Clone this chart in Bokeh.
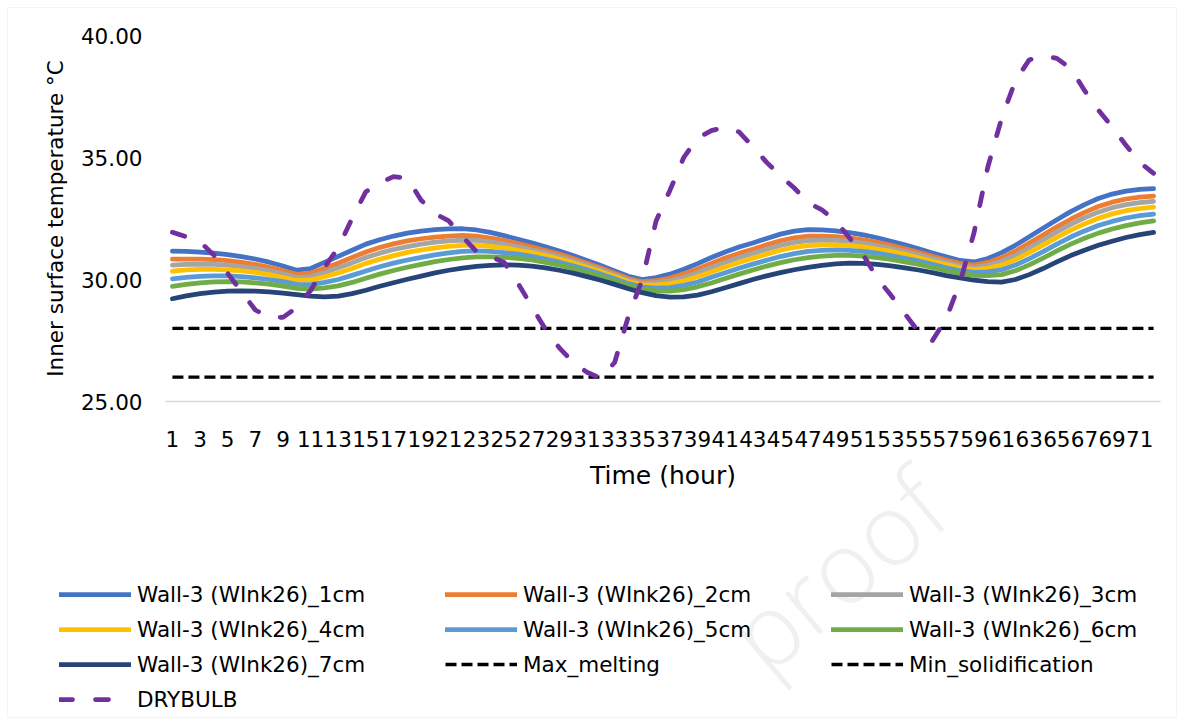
from bokeh.plotting import figure
from bokeh.models import (FixedTicker, Legend, LegendItem, Range1d, Label,
                          PrintfTickFormatter, BoxAnnotation)
from bokeh.embed import file_html
from bokeh.resources import INLINE

# ---------------- data ----------------
hours = list(range(1, 73))
x_tick_labels = list(range(1, 72, 2))
y_ticks = [25, 30, 35, 40]

wall_1cm = [31.16, 31.15, 31.12, 31.08, 31.02, 30.94, 30.84, 30.71, 30.55, 30.38,
            30.45, 30.70, 30.95, 31.20, 31.45, 31.63, 31.78, 31.90, 31.98, 32.04,
            32.07, 32.08, 32.03, 31.93, 31.80, 31.65, 31.50, 31.34, 31.17, 30.98,
            30.78, 30.57, 30.35, 30.13, 30.00, 30.08, 30.22, 30.42, 30.65, 30.90,
            31.13, 31.33, 31.50, 31.68, 31.86, 31.98, 32.04, 32.03, 31.99, 31.92,
            31.83, 31.71, 31.57, 31.42, 31.26, 31.09, 30.93, 30.78, 30.72, 30.86,
            31.10, 31.40, 31.75, 32.10, 32.45, 32.78, 33.07, 33.32, 33.50, 33.62,
            33.69, 33.72]
wall_2cm = [30.83, 30.84, 30.83, 30.81, 30.77, 30.70, 30.62, 30.50, 30.36, 30.21,
            30.26, 30.46, 30.67, 30.90, 31.13, 31.31, 31.46, 31.58, 31.67, 31.74,
            31.78, 31.81, 31.78, 31.70, 31.60, 31.47, 31.34, 31.19, 31.04, 30.86,
            30.67, 30.47, 30.26, 30.04, 29.91, 29.95, 30.06, 30.23, 30.43, 30.66,
            30.88, 31.07, 31.24, 31.42, 31.59, 31.71, 31.78, 31.78, 31.76, 31.71,
            31.63, 31.52, 31.40, 31.26, 31.11, 30.95, 30.80, 30.66, 30.59, 30.70,
            30.89, 31.16, 31.49, 31.82, 32.16, 32.47, 32.75, 32.99, 33.17, 33.30,
            33.38, 33.42]
wall_3cm = [30.59, 30.62, 30.63, 30.62, 30.59, 30.53, 30.46, 30.36, 30.23, 30.09,
            30.12, 30.29, 30.48, 30.68, 30.90, 31.08, 31.23, 31.35, 31.45, 31.53,
            31.58, 31.61, 31.60, 31.54, 31.45, 31.34, 31.22, 31.09, 30.94, 30.77,
            30.59, 30.40, 30.19, 29.98, 29.84, 29.87, 29.95, 30.09, 30.28, 30.49,
            30.70, 30.90, 31.07, 31.24, 31.40, 31.52, 31.59, 31.61, 31.60, 31.56,
            31.49, 31.39, 31.28, 31.15, 31.01, 30.86, 30.71, 30.57, 30.50, 30.58,
            30.75, 30.99, 31.30, 31.62, 31.95, 32.26, 32.53, 32.76, 32.94, 33.07,
            33.15, 33.20]
wall_4cm = [30.34, 30.39, 30.41, 30.41, 30.39, 30.35, 30.29, 30.20, 30.08, 29.96,
            29.98, 30.11, 30.27, 30.45, 30.66, 30.83, 30.98, 31.11, 31.21, 31.30,
            31.36, 31.40, 31.40, 31.36, 31.30, 31.20, 31.10, 30.98, 30.84, 30.68,
            30.50, 30.32, 30.12, 29.92, 29.77, 29.77, 29.83, 29.95, 30.11, 30.31,
            30.51, 30.70, 30.87, 31.04, 31.20, 31.32, 31.39, 31.42, 31.42, 31.39,
            31.34, 31.25, 31.15, 31.03, 30.89, 30.75, 30.61, 30.48, 30.41, 30.46,
            30.59, 30.81, 31.10, 31.41, 31.72, 32.02, 32.28, 32.51, 32.69, 32.82,
            32.91, 32.97]
wall_5cm = [30.03, 30.09, 30.13, 30.15, 30.15, 30.12, 30.07, 30.00, 29.91, 29.80,
            29.79, 29.88, 30.00, 30.17, 30.35, 30.52, 30.67, 30.80, 30.91, 31.01,
            31.09, 31.15, 31.17, 31.15, 31.10, 31.04, 30.95, 30.84, 30.71, 30.56,
            30.40, 30.22, 30.03, 29.83, 29.69, 29.65, 29.67, 29.76, 29.90, 30.09,
            30.28, 30.46, 30.63, 30.79, 30.94, 31.06, 31.15, 31.19, 31.21, 31.19,
            31.15, 31.08, 30.98, 30.87, 30.76, 30.62, 30.48, 30.36, 30.29, 30.31,
            30.40, 30.59, 30.85, 31.14, 31.45, 31.74, 31.99, 32.21, 32.38, 32.52,
            32.62, 32.68]
wall_6cm = [29.72, 29.80, 29.86, 29.90, 29.91, 29.90, 29.86, 29.81, 29.73, 29.64,
            29.61, 29.66, 29.74, 29.88, 30.05, 30.22, 30.37, 30.50, 30.62, 30.73,
            30.82, 30.89, 30.93, 30.93, 30.91, 30.87, 30.80, 30.70, 30.59, 30.45,
            30.29, 30.13, 29.94, 29.75, 29.60, 29.53, 29.52, 29.58, 29.70, 29.86,
            30.04, 30.22, 30.39, 30.55, 30.69, 30.81, 30.90, 30.96, 30.99, 30.99,
            30.96, 30.90, 30.82, 30.72, 30.62, 30.49, 30.36, 30.25, 30.17, 30.16,
            30.20, 30.36, 30.60, 30.88, 31.17, 31.45, 31.69, 31.90, 32.07, 32.21,
            32.32, 32.40]
wall_7cm = [29.21, 29.33, 29.42, 29.48, 29.52, 29.53, 29.52, 29.49, 29.44, 29.38,
            29.32, 29.29, 29.32, 29.42, 29.56, 29.72, 29.87, 30.01, 30.14, 30.27,
            30.38, 30.47, 30.54, 30.58, 30.60, 30.59, 30.55, 30.48, 30.38, 30.26,
            30.12, 29.97, 29.80, 29.62, 29.46, 29.34, 29.28, 29.29, 29.36, 29.50,
            29.66, 29.83, 30.00, 30.15, 30.28, 30.40, 30.50, 30.58, 30.64, 30.67,
            30.66, 30.62, 30.56, 30.48, 30.39, 30.28, 30.16, 30.06, 29.97, 29.91,
            29.89, 30.00, 30.20, 30.45, 30.72, 30.98, 31.20, 31.40, 31.57, 31.72,
            31.84, 31.93]
drybulb = [31.94, 31.75, 31.55, 31.00, 30.25, 29.50, 28.75, 28.45, 28.45, 28.85,
           29.55, 30.50, 31.30, 32.50, 33.60, 33.95, 34.22, 34.15, 33.25, 32.70,
           32.40, 31.75, 31.15, 30.95, 30.70, 29.85, 28.90, 27.95, 27.20, 26.60,
           26.20, 25.95, 26.60, 28.50, 30.00, 32.40, 33.65, 35.00, 35.80, 36.10,
           36.25, 36.05, 35.45, 34.80, 34.25, 33.75, 33.15, 32.85, 32.40, 31.70,
           31.00, 30.05, 29.35, 28.60, 27.85, 27.50, 28.40, 29.90, 31.90, 34.60,
           36.60, 38.15, 39.00, 39.18, 39.06, 38.65, 37.75, 36.95, 36.25, 35.50,
           34.80, 34.35]
max_melting_value = 28.0
min_solidification_value = 26.0
max_melting = [max_melting_value for _ in hours]
min_solidification = [min_solidification_value for _ in hours]

wall_series = [
    ("Wall-3 (WInk26)_1cm", wall_1cm, "#4472C4"),
    ("Wall-3 (WInk26)_2cm", wall_2cm, "#ED7D31"),
    ("Wall-3 (WInk26)_3cm", wall_3cm, "#A5A5A5"),
    ("Wall-3 (WInk26)_4cm", wall_4cm, "#FFC000"),
    ("Wall-3 (WInk26)_5cm", wall_5cm, "#5B9BD5"),
    ("Wall-3 (WInk26)_6cm", wall_6cm, "#70AD47"),
    ("Wall-3 (WInk26)_7cm", wall_7cm, "#264478"),
]

FONT = "DejaVu Sans"
TXT = "#000000"

# ---------------- geometry (pixels) ----------------
W, H = 1183, 724
PLOT_L, PLOT_R, PLOT_T, PLOT_B = 165, 1160, 35, 401
X_LO, X_HI = 0.5, 72.5          # category band of hours 1..72
Y_LO, Y_HI = 25.0, 40.0
px_x = (PLOT_R - PLOT_L) / (X_HI - X_LO)
px_y = (PLOT_B - PLOT_T) / (Y_HI - Y_LO)

p = figure(width=W, height=H, output_backend="svg", toolbar_location=None,
           x_range=Range1d(X_LO - PLOT_L / px_x, X_HI + (W - PLOT_R) / px_x),
           y_range=Range1d(Y_LO - (H - PLOT_B) / px_y, Y_HI + PLOT_T / px_y),
           min_border=0)
p.outline_line_color = None
p.xgrid.visible = False
p.ygrid.visible = False
p.background_fill_color = "white"
p.border_fill_color = "white"

# chart border
p.add_layout(BoxAnnotation(left=7, right=W - 7, top=7, bottom=H - 7,
                           left_units="screen", right_units="screen",
                           top_units="screen", bottom_units="screen",
                           fill_alpha=0, line_color="#D9D9D9", line_width=1,
                           level="underlay"))

# faint watermark
WM_X, WM_Y = 785, 700
p.add_layout(Label(x=X_LO + (WM_X - PLOT_L) / px_x, y=Y_LO - (WM_Y - PLOT_B) / px_y,
                   text="proof", angle=40, angle_units="deg",
                   text_font="Open Sans", text_font_size="100px",
                   text_color="#F0F0F0", level="underlay"))

wall_style = dict(line_width=4.75, line_join="round", line_cap="round")
melt_style = dict(line_color="black", line_width=3.3, line_dash="11 5")
dry_style = dict(line_color="#7030A0", line_width=4.75, line_dash="13 23",
                 line_cap="round", line_join="round")

items = []
for name, ys, col in wall_series:
    r = p.line(hours, ys, line_color=col, **wall_style)
    items.append(LegendItem(label=name, renderers=[r]))
r_max = p.line(hours, max_melting, **melt_style)
items.append(LegendItem(label="Max_melting", renderers=[r_max]))
r_min = p.line(hours, min_solidification, **melt_style)
items.append(LegendItem(label="Min_solidification", renderers=[r_min]))
r_dry = p.line(hours, drybulb, **dry_style)
items.append(LegendItem(label="DRYBULB", renderers=[r_dry]))

# x axis drawn at y = 25
xa = p.xaxis[0]
xa.fixed_location = Y_LO
xa.bounds = (X_LO, X_HI)
xa.ticker = FixedTicker(ticks=x_tick_labels)
xa.axis_line_color = "#D9D9D9"
xa.axis_line_width = 1.5
xa.major_tick_line_color = None
xa.minor_tick_line_color = None
xa.major_tick_out = 0
xa.major_tick_in = 0
xa.major_label_standoff = 29
xa.major_label_text_font = FONT
xa.major_label_text_font_size = "21.5px"
xa.major_label_text_color = TXT
xa.axis_label = "Time (hour)"
xa.axis_label_text_font = FONT
xa.axis_label_text_font_size = "25px"
xa.axis_label_text_font_style = "normal"
xa.axis_label_text_color = TXT
xa.axis_label_standoff = 11

# y axis drawn at the left edge of the plot area
ya = p.yaxis[0]
ya.fixed_location = X_LO
ya.bounds = (Y_LO, Y_HI)
ya.ticker = FixedTicker(ticks=y_ticks)
ya.formatter = PrintfTickFormatter(format="%.2f")
ya.axis_line_color = None
ya.major_tick_line_color = None
ya.minor_tick_line_color = None
ya.major_tick_out = 0
ya.major_tick_in = 0
ya.major_label_standoff = 23
ya.major_label_text_font = FONT
ya.major_label_text_font_size = "21.5px"
ya.major_label_text_color = TXT
ya.axis_label = "Inner surface temperature °C"
ya.axis_label_text_font = FONT
ya.axis_label_text_font_size = "21.5px"
ya.axis_label_text_font_style = "normal"
ya.axis_label_text_color = TXT
ya.axis_label_standoff = 10

legend = Legend(items=items, location=(59, 10), orientation="horizontal",
                ncols=3, glyph_width=72, glyph_height=30, label_height=30,
                label_width=303, label_standoff=6, spacing=5, padding=0,
                margin=0, border_line_color=None, background_fill_alpha=0,
                label_text_font=FONT, label_text_font_size="21.5px",
                label_text_color=TXT)
p.add_layout(legend)

open("out.html", "w").write(file_html(p, INLINE))
